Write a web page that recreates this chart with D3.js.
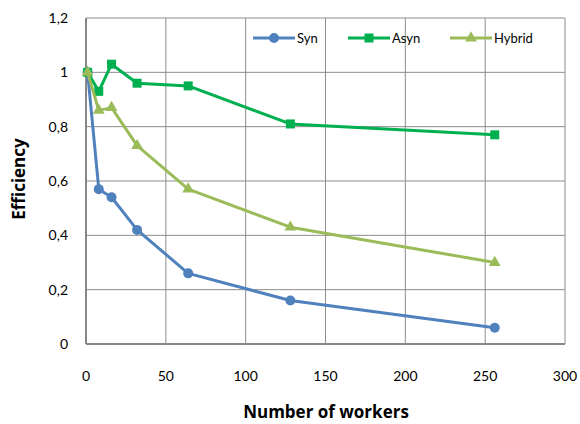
<!DOCTYPE html>
<html><head><meta charset="utf-8">
<script src="https://cdn.jsdelivr.net/npm/d3@7"></script>
<style>body{margin:0;background:#fff;}svg{display:block;font-family:Lato,"Open Sans",sans-serif;}</style>
</head><body>
<svg id="c" width="580" height="424"></svg>
<script>
const workers = [1, 8, 16, 32, 64, 128, 256];
const syn = [1, 0.57, 0.54, 0.42, 0.26, 0.16, 0.06];
const asyn = [1, 0.93, 1.03, 0.96, 0.95, 0.81, 0.77];
const hybrid = [1, 0.86, 0.87, 0.73, 0.57, 0.43, 0.30];
const xTicks = [0, 50, 100, 150, 200, 250, 300];
const yTicks = [0, 0.2, 0.4, 0.6, 0.8, 1, 1.2];
const seriesNames = ["Syn", "Asyn", "Hybrid"];
const seriesColors = ["#4F81BD", "#00B050", "#9BBB59"];
const seriesMarkers = ["circle", "square", "triangle"];

const svg = d3.select("#c");
const x = d3.scaleLinear().domain([0, 300]).range([86, 565]);
const y = d3.scaleLinear().domain([0, 1.2]).range([344, 18]);
const fmt = v => String(+v.toFixed(1)).replace(".", ",");

// grid
svg.append("g").selectAll("line").data(yTicks).join("line")
  .attr("x1", x(0)).attr("x2", x(300)).attr("y1", d => y(d)).attr("y2", d => y(d))
  .attr("stroke", "#8c8c8c").attr("stroke-width", 1);
svg.append("g").selectAll("line").data(xTicks).join("line")
  .attr("y1", y(0)).attr("y2", y(1.2)).attr("x1", d => x(d)).attr("x2", d => x(d))
  .attr("stroke", "#8c8c8c").attr("stroke-width", 1);
// axes lines
svg.append("line").attr("x1", x(0)).attr("x2", x(300)).attr("y1", y(0)).attr("y2", y(0)).attr("stroke", "#878787").attr("stroke-width", 2);
svg.append("line").attr("x1", x(0)).attr("x2", x(0)).attr("y1", y(0)).attr("y2", y(1.2)).attr("stroke", "#878787").attr("stroke-width", 2);

// tick labels
svg.append("g").selectAll("text").data(yTicks).join("text")
  .attr("x", 68).attr("y", d => y(d)).attr("dy", "0.35em").attr("text-anchor", "end")
  .attr("font-size", 14).attr("fill", "#000").text(fmt);
svg.append("g").selectAll("text").data(xTicks).join("text")
  .attr("x", d => x(d)).attr("y", 376).attr("dy", "0.35em").attr("text-anchor", "middle")
  .attr("font-size", 14).attr("fill", "#000").text(d => d);

// titles
svg.append("text").attr("x", 326).attr("y", 412).attr("dy", "0.35em").attr("text-anchor", "middle")
  .attr("font-family", "'Open Sans',sans-serif")
  .attr("font-size", 17).attr("font-weight", "bold").text("Number of workers");
svg.append("text").attr("transform", "translate(19,179) rotate(-90)").attr("dy", "0.35em").attr("text-anchor", "middle")
  .attr("font-family", "'Open Sans',sans-serif")
  .attr("font-size", 17).attr("font-weight", "bold").text("Efficiency");

const data = [syn, asyn, hybrid];
const line = d3.line().x((d, i) => x(workers[i])).y(d => y(d));

function marker(g, type, color, cx, cy) {
  if (type === "circle") g.append("circle").attr("cx", cx).attr("cy", cy).attr("r", 5).attr("fill", color);
  else if (type === "square") g.append("rect").attr("x", cx - 4.5).attr("y", cy - 4.5).attr("width", 9).attr("height", 9).attr("fill", color);
  else g.append("path").attr("d", d3.symbol().type(d3.symbolTriangle).size(60)()).attr("transform", `translate(${cx},${cy})`).attr("fill", color);
}

data.forEach((vals, k) => {
  const g = svg.append("g");
  g.append("path").datum(vals).attr("d", line).attr("fill", "none")
    .attr("stroke", seriesColors[k]).attr("stroke-width", 3).attr("stroke-linejoin", "round");
  vals.forEach((v, i) => marker(g, seriesMarkers[k], seriesColors[k], x(workers[i]), y(v)));
});

// legend
const legX = [253, 348, 450];
seriesNames.forEach((n, k) => {
  const g = svg.append("g");
  const ly = 38;
  g.append("line").attr("x1", legX[k]).attr("x2", legX[k] + 42).attr("y1", ly).attr("y2", ly)
    .attr("stroke", seriesColors[k]).attr("stroke-width", 3);
  marker(g, seriesMarkers[k], seriesColors[k], legX[k] + 21, ly);
  g.append("text").attr("x", legX[k] + 44).attr("y", ly).attr("dy", "0.35em")
    .attr("font-size", 13).text(n);
});
</script>
</body></html>
